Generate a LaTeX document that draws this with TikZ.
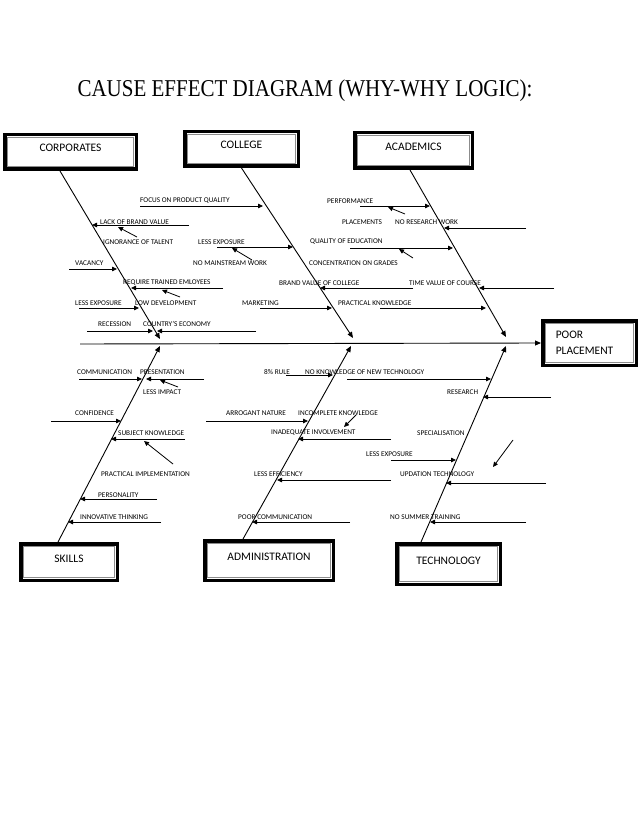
\documentclass[tikz,border=0pt]{standalone}
\usepackage{fontspec}
\usepackage{graphicx}
\setmainfont{Carlito}
\newfontfamily\titlefont{Liberation Serif}
\usetikzlibrary{arrows.meta}

\tikzset{
  catbox/.style={draw=black, line width=3.5pt, fill=white, inner sep=0pt,
    text height=6pt, text depth=6pt, font=\fontsize{11.5}{14}\selectfont,
    path picture={\draw[black!45, line width=0.8pt]
      ([xshift=3pt,yshift=-3pt]path picture bounding box.north west) rectangle
      ([xshift=-3pt,yshift=3pt]path picture bounding box.south east);}},
  lbl/.style={anchor=west, inner sep=0pt, font=\fontsize{7.3}{8}\selectfont},
  cause/.style={line width=0.8pt, -{Triangle[length=5pt,width=4.5pt]}},
  bone/.style={line width=0.9pt, -{Triangle[length=6pt,width=5pt]}}
}

\begin{document}
\begin{tikzpicture}[x=1pt,y=-1pt]
  \useasboundingbox (0,0) rectangle (638,826);

  % Title
  \node[inner sep=0pt, font=\titlefont\fontsize{21}{24}\selectfont] (title) at (305,91)
    {\scalebox{1}[1.15]{CAUSE EFFECT DIAGRAM (WHY-WHY LOGIC):}};

  % Category boxes
  \node[catbox, minimum width=131.5pt, minimum height=34.5pt] (corporates) at (70.5,152) {CORPORATES};
  \node[catbox, minimum width=113.5pt, minimum height=34.5pt] (college) at (241.5,149) {COLLEGE};
  \node[catbox, minimum width=117.5pt, minimum height=35.5pt] (academics) at (413.5,150.5) {ACADEMICS};
  \node[catbox, minimum width=96.5pt, minimum height=36.5pt] (skills) at (69,562) {SKILLS};
  \node[catbox, minimum width=128.5pt, minimum height=39.5pt] (admin) at (269,560.5) {ADMINISTRATION};
  \node[catbox, minimum width=103.5pt, minimum height=40.5pt] (technology) at (448.5,564) {TECHNOLOGY};
  \node[catbox, minimum width=93.5pt, minimum height=44.5pt, text height=, text depth=,
        inner xsep=13pt, text width=67.5pt, align=left, font=\fontsize{11.5}{16}\selectfont]
        (poor) at (589.5,343) {POOR\\PLACEMENT};

  % Spine and bones
  \coordinate (spineS) at (80,344);
  \coordinate (corpH) at (160,339);
  \coordinate (collH) at (353,338);
  \coordinate (acadH) at (506,337);
  \coordinate (skillH) at (160,346);
  \coordinate (adminH) at (351,346);
  \coordinate (techH) at (506,346);
  \draw[bone] (spineS) -- (poor.west);
  \draw[bone] ([xshift=-10.5pt]corporates.south) -- (corpH);
  \draw[bone] (college.south) -- (collH);
  \draw[bone] ([xshift=-3.5pt]academics.south) -- (acadH);
  \draw[bone] ([xshift=-11pt]skills.north) -- (skillH);
  \draw[bone] ([xshift=-26pt]admin.north) -- (adminH);
  \draw[bone] ([xshift=-27.5pt]technology.north) -- (techH);

  % Corporates causes
  \node[lbl] (focus) at (140,201) {FOCUS ON PRODUCT QUALITY};
  \node[lbl] (lack) at (100,222) {LACK OF BRAND VALUE};
  \node[lbl] (ignorance) at (103,242) {IGNORANCE OF TALENT};
  \node[lbl] (vacancy) at (75,263) {VACANCY};
  \node[lbl] (require) at (123,283) {REQUIRE TRAINED EMLOYEES};
  \node[lbl] (lessexpA) at (75,303) {LESS EXPOSURE};
  \node[lbl] (lowdev) at (135,303) {LOW DEVELOPMENT};
  \node[lbl] (recession) at (98,324) {RECESSION};
  \node[lbl] (country) at (143,324) {COUNTRY'S ECONOMY};
  \coordinate (focusS) at (140,206);
  \coordinate (focusE) at (263,206);
  \coordinate (lackS) at (189,225);
  \coordinate (lackE) at (92,225);
  \coordinate (ignorS) at (137,237);
  \coordinate (ignorE) at (118,227);
  \coordinate (vacS) at (69,269);
  \coordinate (vacE) at (117,269);
  \coordinate (reqS) at (223,288);
  \coordinate (reqE) at (131,288);
  \coordinate (lowS) at (180,297);
  \coordinate (lowE) at (162,290);
  \coordinate (lessAS) at (79,308);
  \coordinate (lessAE) at (139,308);
  \coordinate (recS) at (87,331);
  \coordinate (recE) at (153,331);
  \coordinate (ctryS) at (256,331);
  \coordinate (ctryE) at (157,331);
  \draw[cause] (focusS) -- (focusE);
  \draw[cause] (lackS) -- (lackE);
  \draw[cause] (ignorS) -- (ignorE);
  \draw[cause] (vacS) -- (vacE);
  \draw[cause] (reqS) -- (reqE);
  \draw[cause] (lowS) -- (lowE);
  \draw[cause] (lessAS) -- (lessAE);
  \draw[cause] (recS) -- (recE);
  \draw[cause] (ctryS) -- (ctryE);

  % College causes
  \node[lbl] (lessexpB) at (198,242) {LESS EXPOSURE};
  \node[lbl] (mainstream) at (193,263) {NO MAINSTREAM WORK};
  \node[lbl] (marketing) at (242,303) {MARKETING};
  \node[lbl] (performance) at (327,201) {PERFORMANCE};
  \node[lbl] (placements) at (342,222) {PLACEMENTS};
  \node[lbl] (quality) at (310,242) {QUALITY OF EDUCATION};
  \node[lbl] (grades) at (309,263) {CONCENTRATION ON GRADES};
  \node[lbl] (brand) at (279,283) {BRAND VALUE OF COLLEGE};
  \node[lbl] (practical) at (338,303) {PRACTICAL KNOWLEDGE};
  \coordinate (lessBS) at (217,247);
  \coordinate (lessBE) at (293,247);
  \coordinate (mainS) at (252,260);
  \coordinate (mainE) at (232,248);
  \coordinate (markS) at (260,308);
  \coordinate (markE) at (332,308);
  \coordinate (brandS) at (413,288);
  \coordinate (brandE) at (320,288);
  \draw[cause] (lessBS) -- (lessBE);
  \draw[cause] (mainS) -- (mainE);
  \draw[cause] (markS) -- (markE);
  \draw[cause] (brandS) -- (brandE);

  % Academics causes
  \node[lbl] (research) at (395,222) {NO RESEARCH WORK};
  \node[lbl] (timeval) at (409,283) {TIME VALUE OF COURSE};
  \coordinate (perfS) at (360,206);
  \coordinate (perfE) at (430,206);
  \coordinate (placS) at (405,214);
  \coordinate (placE) at (388,207);
  \coordinate (resS) at (526,228);
  \coordinate (resE) at (444,228);
  \coordinate (qualS) at (350,248);
  \coordinate (qualE) at (453,248);
  \coordinate (gradS) at (413,258);
  \coordinate (gradE) at (399,249);
  \coordinate (timeS) at (554,288);
  \coordinate (timeE) at (479,288);
  \coordinate (pracS) at (380,308);
  \coordinate (pracE) at (486,308);
  \draw[cause] (perfS) -- (perfE);
  \draw[cause] (placS) -- (placE);
  \draw[cause] (resS) -- (resE);
  \draw[cause] (qualS) -- (qualE);
  \draw[cause] (gradS) -- (gradE);
  \draw[cause] (timeS) -- (timeE);
  \draw[cause] (pracS) -- (pracE);

  % Skills causes
  \node[lbl] (communication) at (77,372) {COMMUNICATION};
  \node[lbl] (presentation) at (140,372) {PRESENTATION};
  \node[lbl] (impact) at (143,392) {LESS IMPACT};
  \node[lbl] (confidence) at (75,413) {CONFIDENCE};
  \node[lbl] (subject) at (118,433) {SUBJECT KNOWLEDGE};
  \node[lbl] (implement) at (101,474) {PRACTICAL IMPLEMENTATION};
  \node[lbl] (personality) at (98,495) {PERSONALITY};
  \node[lbl] (innovative) at (80,517) {INNOVATIVE THINKING};
  \coordinate (commS) at (79,379);
  \coordinate (commE) at (142,379);
  \coordinate (presS) at (204,379);
  \coordinate (presE) at (146,379);
  \coordinate (impS) at (178,387);
  \coordinate (impE) at (160,380);
  \coordinate (confS) at (51,421);
  \coordinate (confE) at (121,421);
  \coordinate (subjS) at (185,439);
  \coordinate (subjE) at (111,439);
  \coordinate (implS) at (173,464);
  \coordinate (implE) at (144,441);
  \coordinate (persS) at (157,499);
  \coordinate (persE) at (80,499);
  \coordinate (innoS) at (161,522);
  \coordinate (innoE) at (68,522);
  \draw[cause] (commS) -- (commE);
  \draw[cause] (presS) -- (presE);
  \draw[cause] (impS) -- (impE);
  \draw[cause] (confS) -- (confE);
  \draw[cause] (subjS) -- (subjE);
  \draw[cause] (implS) -- (implE);
  \draw[cause] (persS) -- (persE);
  \draw[cause] (innoS) -- (innoE);

  % Administration causes
  \node[lbl] (rule) at (264,372) {8\% RULE};
  \node[lbl] (noknow) at (305,372) {NO KNOWLEDGE OF NEW TECHNOLOGY};
  \node[lbl] (arrogant) at (226,413) {ARROGANT NATURE};
  \node[lbl] (incomplete) at (298,413) {INCOMPLETE KNOWLEDGE};
  \node[lbl] (inadequate) at (271,433) {INADEQUATE INVOLVEMENT};
  \node[lbl] (efficiency) at (254,474) {LESS EFFICIENCY};
  \node[lbl] (poorcomm) at (238,517) {POOR COMMUNICATION};
  \coordinate (ruleS) at (286,375);
  \coordinate (ruleE) at (333,375);
  \coordinate (arroS) at (206,421);
  \coordinate (arroE) at (308,421);
  \coordinate (incS) at (356,415);
  \coordinate (incE) at (344,427);
  \coordinate (inadS) at (391,439);
  \coordinate (inadE) at (298,439);
  \coordinate (effS) at (391,480);
  \coordinate (effE) at (277,480);
  \coordinate (pcomS) at (350,522);
  \coordinate (pcomE) at (252,522);
  \draw[cause] (ruleS) -- (ruleE);
  \draw[cause] (arroS) -- (arroE);
  \draw[cause] (incS) -- (incE);
  \draw[cause] (inadS) -- (inadE);
  \draw[cause] (effS) -- (effE);
  \draw[cause] (pcomS) -- (pcomE);

  % Technology causes
  \node[lbl] (researchT) at (447,392) {RESEARCH};
  \node[lbl] (special) at (417,433) {SPECIALISATION};
  \node[lbl] (lessexpC) at (366,454) {LESS EXPOSURE};
  \node[lbl] (updation) at (400,474) {UPDATION TECHNOLOGY};
  \node[lbl] (summer) at (390,517) {NO SUMMER TRAINING};
  \coordinate (nkS) at (347,379);
  \coordinate (nkE) at (491,379);
  \coordinate (rsS) at (551,397);
  \coordinate (rsE) at (483,397);
  \coordinate (lessCS) at (391,460);
  \coordinate (lessCE) at (456,460);
  \coordinate (tdiagS) at (513,440);
  \coordinate (tdiagE) at (493,467);
  \coordinate (updS) at (546,483);
  \coordinate (updE) at (446,483);
  \coordinate (sumS) at (526,522);
  \coordinate (sumE) at (430,522);
  \draw[cause] (nkS) -- (nkE);
  \draw[cause] (rsS) -- (rsE);
  \draw[cause] (lessCS) -- (lessCE);
  \draw[cause] (tdiagS) -- (tdiagE);
  \draw[cause] (updS) -- (updE);
  \draw[cause] (sumS) -- (sumE);
\end{tikzpicture}
\end{document}
